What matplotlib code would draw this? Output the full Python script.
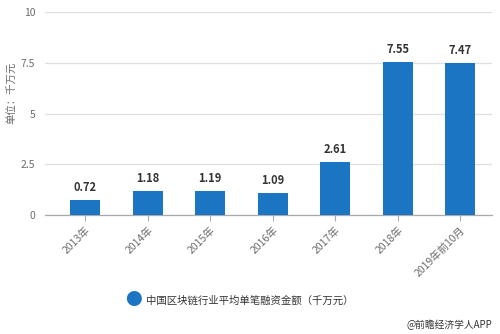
import matplotlib.pyplot as plt
import numpy as np

plt.rcParams['font.family'] = ['Noto Sans CJK SC', 'DejaVu Sans']

# data
years = ["2013年", "2014年", "2015年", "2016年", "2017年", "2018年", "2019年前10月"]
values = [0.72, 1.18, 1.19, 1.09, 2.61, 7.55, 7.47]
yticks = [0, 2.5, 5, 7.5, 10]
ytick_labels = ["0", "2.5", "5", "7.5", "10"]
series_name = "中国区块链行业平均单笔融资金额（千万元）"

bar_color = "#1b75c2"
grid_color = "#dcdfe3"
text_gray = "#6b6b6b"

fig = plt.figure(figsize=(5, 3.34), dpi=100)
ax = fig.add_axes([0.09, 0.356, 0.894, 0.608])

x = np.arange(len(years))
ax.bar(x, values, width=0.48, color=bar_color, zorder=3)

for xi, v in zip(x, values):
    ax.text(xi, v + 0.3, f"{v:.2f}", ha="center", va="bottom",
            fontsize=8, fontweight="bold", color="#333333", zorder=4)

ax.set_xlim(-0.64, 6.51)
ax.set_ylim(0, 10)
ax.set_yticks(yticks)
ax.set_yticklabels(ytick_labels, fontsize=7.5, color=text_gray)
ax.yaxis.grid(True, color=grid_color, linewidth=0.9, zorder=0)
ax.tick_params(axis="y", length=0, pad=7)

ax.set_xticks(x)
ax.set_xticklabels(years, rotation=45, ha="right", rotation_mode="anchor",
                   fontsize=7.5, color=text_gray)
ax.tick_params(axis="x", length=4, color="#aaaaaa", pad=3)

for side in ["top", "right", "left"]:
    ax.spines[side].set_visible(False)
ax.spines["bottom"].set_color("#aaaaaa")
ax.spines["bottom"].set_linewidth(0.9)

ax.set_ylabel("单位：千万元", fontsize=7.5, color=text_gray)
ax.yaxis.set_label_coords(-0.063, 0.6)

# legend
fig.text(0.266, 0.1, "●", fontsize=12, color=bar_color, ha="center", va="center")
fig.text(0.292, 0.1, series_name, fontsize=7.5, color="#333333", ha="left", va="center")

fig.text(0.985, 0.028, "@前瞻经济学人APP", fontsize=7, color="#333333", ha="right", va="center")

fig.savefig("out.png", dpi=100)
